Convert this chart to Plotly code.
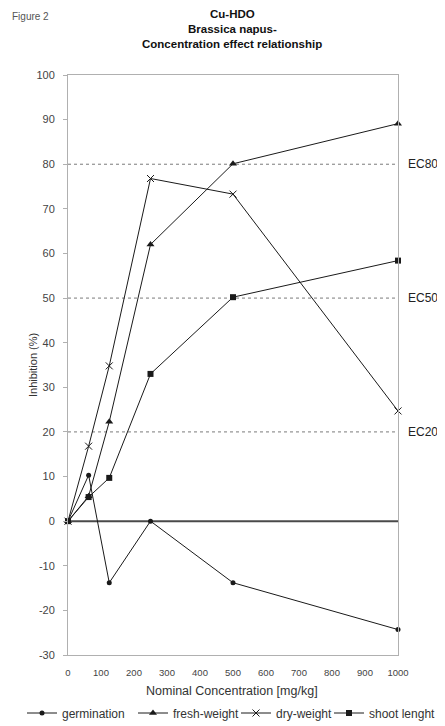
import plotly.graph_objects as go

conc = [0, 62.5, 125, 250, 500, 1000]
germination = [0, 10.3, -13.8, 0, -13.8, -24.3]
fresh_weight = [0, 5.6, 22.3, 62.0, 80.1, 89.1]
dry_weight = [0, 16.8, 34.8, 76.8, 73.3, 24.7]
shoot_length = [0, 5.4, 9.7, 33.0, 50.2, 58.4]

ec_levels = [80, 50, 20]
ec_labels = ["EC80", "EC50", "EC20"]
x_ticks = list(range(0, 1001, 100))
y_ticks = list(range(-30, 101, 10))
y_ticktext = [str(v) for v in y_ticks]

FONT = "Liberation Sans, Arial, sans-serif"
LINE = "#1a1a1a"

# figure geometry (the page body adds an 8px offset)
W, H = 437, 718
L, T, PW, PH = 60, 67, 330, 580


def px_x(px):
    return (px - L) / PW


def px_y(py):
    return 1 - (py - T) / PH


fig = go.Figure()

for lv in ec_levels:
    fig.add_trace(go.Scatter(x=[0, 1000], y=[lv, lv], mode="lines",
                             line=dict(color="#7a7a7a", width=1, dash="dot"),
                             showlegend=False, hoverinfo="skip"))
fig.add_trace(go.Scatter(x=[0, 1000], y=[0, 0], mode="lines",
                         line=dict(color="#4a4a4a", width=2),
                         showlegend=False, hoverinfo="skip"))

series = [
    ("germination", germination, dict(symbol="circle", size=5), "legend", 14),
    ("fresh-weight", fresh_weight, dict(symbol="triangle-up", size=7), "legend2", 125),
    ("dry-weight", dry_weight, dict(symbol="x-thin", size=7, line=dict(width=1, color=LINE)), "legend3", 228),
    ("shoot lenght", shoot_length, dict(symbol="square", size=6), "legend4", 321),
]
legend_layouts = {}
for name, vals, mk, lg, sx in series:
    fig.add_trace(go.Scatter(x=conc, y=vals, mode="lines+markers", name=name,
                             line=dict(color=LINE, width=1),
                             marker=dict(color=LINE, **mk),
                             cliponaxis=False, legend=lg))
    legend_layouts[lg] = dict(orientation="h", x=px_x(sx), xanchor="left",
                              y=px_y(705), yanchor="middle",
                              font=dict(family=FONT, size=12, color="#333333"),
                              itemwidth=30, bgcolor="rgba(0,0,0,0)", borderwidth=0)

for lv, lab in zip(ec_levels, ec_labels):
    fig.add_annotation(x=1, xref="paper", y=lv, yref="y", text=lab,
                       showarrow=False, xanchor="left", xshift=8,
                       font=dict(family=FONT, size=12, color="#222222"))

title_lines = ["Cu-HDO", "Brassica napus-", "Concentration effect relationship"]
title_y = [6, 21, 36]
for txt, ty in zip(title_lines, title_y):
    fig.add_annotation(x=px_x(224), xref="paper", y=px_y(ty), yref="paper",
                       text="<b>" + txt + "</b>", showarrow=False,
                       xanchor="center", yanchor="middle",
                       font=dict(family=FONT, size=11.5, color="#111111"))

fig.add_annotation(x=px_x(2), xref="paper", y=px_y(9), yref="paper",
                   text="Figure 2", showarrow=False, xanchor="left", yanchor="middle",
                   font=dict(family=FONT, size=10, color="#555555"))

fig.add_annotation(x=px_x(224), xref="paper", y=px_y(683), yref="paper",
                   text="Nominal Concentration [mg/kg]", showarrow=False,
                   xanchor="center", yanchor="middle",
                   font=dict(family=FONT, size=12.5, color="#333333"))

fig.add_annotation(x=px_x(25), xref="paper", y=0.5, yref="paper",
                   text="Inhibition (%)", showarrow=False, textangle=-90,
                   xanchor="center", yanchor="middle",
                   font=dict(family=FONT, size=11, color="#333333"))

fig.update_layout(
    width=W, height=H,
    margin=dict(l=L, r=W - L - PW, t=T, b=H - T - PH, autoexpand=False),
    paper_bgcolor="white", plot_bgcolor="white",
    font=dict(family=FONT, size=10, color="#333333"),
    xaxis=dict(range=[0, 1000], tickvals=x_ticks, showgrid=False, zeroline=False,
               showline=True, linecolor="#b0b0b0", mirror=True, ticks="",
               ticklabelstandoff=9,
               tickfont=dict(size=9.5, color="#444444")),
    yaxis=dict(range=[-30, 100], tickvals=y_ticks, ticktext=y_ticktext,
               showgrid=False, zeroline=False,
               showline=True, linecolor="#b0b0b0", mirror=True, ticks="outside",
               ticklen=4, tickcolor="#b0b0b0", ticklabelstandoff=6,
               tickfont=dict(size=11, color="#444444")),
    **legend_layouts,
)

fig.write_html("out.html")
